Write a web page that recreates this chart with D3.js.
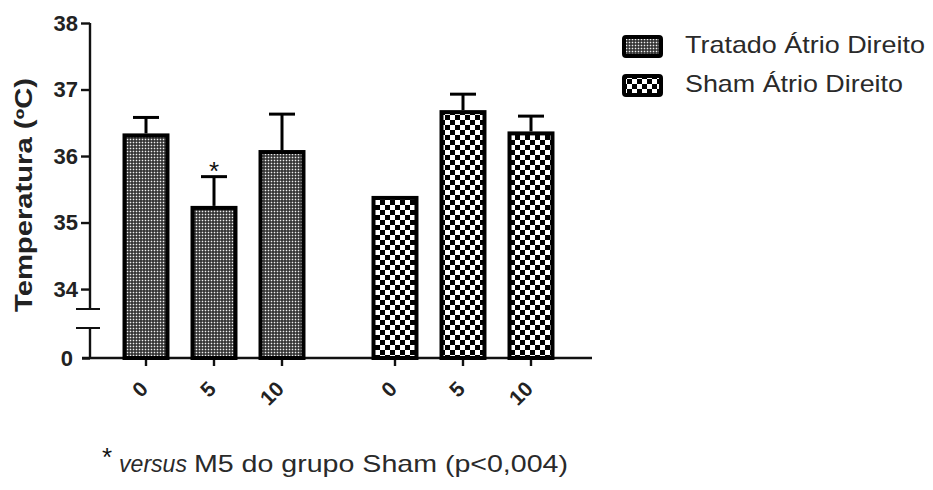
<!DOCTYPE html>
<html>
<head>
<meta charset="utf-8">
<script src="https://cdn.jsdelivr.net/npm/d3@7"></script>
<style>
  html, body { margin: 0; padding: 0; background: #fff; }
  svg { display: block; font-family: "Liberation Sans", Arial, sans-serif; }
</style>
</head>
<body>
<svg id="chart" width="933" height="490"></svg>
<script>
// Time points (minutes) and groups
const timePoints = ["0", "5", "10"];
const groups = ["Tratado", "Sham"];
const legendLabels = ["Tratado Átrio Direito", "Sham Átrio Direito"];

// Mean temperature (ºC) and SEM per group
const tratadoMean = [36.31, 35.22, 36.06];
const tratadoSem  = [0.27, 0.47, 0.57];
const shamMean    = [35.37, 36.66, 36.34];
const shamSem     = [0.0, 0.27, 0.26];

// Significance marks per bar of the treated group
const tratadoSig = ["", "*", ""];

// Y axis ticks: upper segment and the broken lower segment
const upperTicks = [34, 35, 36, 37, 38];
const lowerTicks = [0];

const yLabel = "Temperatura (ºC)";
const footnoteStar = "*";
const footnoteItalic = "versus";
const footnoteText = "M5 do grupo Sham (p<0,004)";

const svg = d3.select("#chart");

// Fill patterns
const defs = svg.append("defs");
const fine = defs.append("pattern").attr("id", "pat-fine")
  .attr("patternUnits", "userSpaceOnUse").attr("width", 3).attr("height", 3);
fine.append("rect").attr("width", 3).attr("height", 3).attr("fill", "#262626");
fine.append("rect").attr("x", 0.7).attr("y", 0.7).attr("width", 1.6).attr("height", 1.6).attr("fill", "#f0f0f0");

const checker = defs.append("pattern").attr("id", "pat-checker")
  .attr("patternUnits", "userSpaceOnUse").attr("width", 10).attr("height", 10);
checker.append("rect").attr("width", 10).attr("height", 10).attr("fill", "#fff");
checker.append("rect").attr("x", 0).attr("y", 0).attr("width", 5).attr("height", 5).attr("fill", "#000");
checker.append("rect").attr("x", 5).attr("y", 5).attr("width", 5).attr("height", 5).attr("fill", "#000");

const fills = { Tratado: "url(#pat-fine)", Sham: "url(#pat-checker)" };

// Scales: broken y axis (upper linear part + short lower part holding 0)
const yTop = d3.scaleLinear().domain([33.7, 38]).range([309, 23]);
const yBot = d3.scaleLinear().domain([0, 1]).range([358, 328]);

const xGroup = d3.scaleBand().domain(groups).range([112, 565]).paddingInner(0.1807);
const xInner = d3.scaleBand().domain(timePoints).range([0, xGroup.bandwidth()])
  .paddingInner(0.368).paddingOuter(0.184);

const rows = [];
groups.forEach(g => {
  const means = g === "Tratado" ? tratadoMean : shamMean;
  const sems = g === "Tratado" ? tratadoSem : shamSem;
  timePoints.forEach((t, i) => {
    rows.push({ group: g, time: t, mean: means[i], sem: sems[i],
      sig: g === "Tratado" ? tratadoSig[i] : "" });
  });
});
const cx = d => xGroup(d.group) + xInner(d.time) + xInner.bandwidth() / 2;

// Axes
const axisColor = "#111";
const upperAxis = svg.append("g").attr("transform", "translate(90,0)")
  .call(d3.axisLeft(yTop).tickValues(upperTicks).tickFormat(d3.format("d"))
    .tickSize(9).tickSizeOuter(0).tickPadding(3));
upperAxis.select(".domain").attr("d", `M0,${yTop(38)}V309`);
const lowerAxis = svg.append("g").attr("transform", "translate(90,0)")
  .call(d3.axisLeft(yBot).tickValues(lowerTicks).tickFormat(d3.format("d"))
    .tickSize(8).tickSizeOuter(0).tickPadding(9));
lowerAxis.select(".domain").attr("d", `M0,328V${yBot(0)}`);
[upperAxis, lowerAxis].forEach(a => {
  a.attr("font-size", 22).attr("font-family", "Liberation Sans, Arial, sans-serif");
  a.selectAll("path, line").attr("stroke", axisColor).attr("stroke-width", 2.4);
  a.selectAll("text").attr("font-size", 22).attr("font-weight", "bold").attr("fill", "#222");
});
// Break marks on the y axis
svg.append("g").selectAll("line").data([309, 328]).join("line")
  .attr("x1", 76).attr("x2", 100).attr("y1", d => d).attr("y2", d => d)
  .attr("stroke", axisColor).attr("stroke-width", 2);

// X axis baseline and ticks
const y0 = yBot(0);
svg.append("line").attr("x1", 82).attr("x2", 592).attr("y1", y0).attr("y2", y0)
  .attr("stroke", axisColor).attr("stroke-width", 2.4);
svg.append("g").selectAll("line").data(rows).join("line")
  .attr("x1", cx).attr("x2", cx).attr("y1", y0).attr("y2", y0 + 8)
  .attr("stroke", axisColor).attr("stroke-width", 2.4);
svg.append("g").selectAll("text").data(rows).join("text")
  .attr("transform", d => `translate(${cx(d) - 2},385) rotate(-45)`)
  .attr("text-anchor", "end").attr("dy", "0.35em")
  .attr("font-size", 21).attr("font-weight", "bold").attr("fill", "#222")
  .text(d => d.time);

// Bars
svg.append("g").selectAll("rect").data(rows).join("rect")
  .attr("x", d => xGroup(d.group) + xInner(d.time))
  .attr("width", xInner.bandwidth())
  .attr("y", d => yTop(d.mean))
  .attr("height", d => y0 - yTop(d.mean))
  .attr("fill", d => fills[d.group])
  .attr("stroke", "#000").attr("stroke-width", 4);

// Error bars (upper SEM only)
const err = svg.append("g").attr("stroke", "#000").attr("stroke-width", 3);
const withErr = rows.filter(d => d.sem > 0);
err.selectAll("line.v").data(withErr).join("line").attr("class", "v")
  .attr("x1", cx).attr("x2", cx)
  .attr("y1", d => yTop(d.mean) - 2).attr("y2", d => yTop(d.mean + d.sem));
err.selectAll("line.c").data(withErr).join("line").attr("class", "c")
  .attr("x1", d => cx(d) - 13).attr("x2", d => cx(d) + 13)
  .attr("y1", d => yTop(d.mean + d.sem)).attr("y2", d => yTop(d.mean + d.sem));

// Significance asterisk
svg.append("g").selectAll("text").data(rows.filter(d => d.sig)).join("text")
  .attr("x", cx).attr("y", d => yTop(d.mean + d.sem) + 3)
  .attr("text-anchor", "middle").attr("font-size", 26).attr("fill", "#111")
  .text(d => d.sig);

// Y axis title
svg.append("text")
  .attr("transform", "translate(32,195) rotate(-90)")
  .attr("text-anchor", "middle")
  .attr("font-size", 23).attr("font-weight", "bold").attr("fill", "#222")
  .attr("textLength", 234).attr("lengthAdjust", "spacingAndGlyphs")
  .text(yLabel);

// Legend
const legend = svg.append("g");
const legendRows = legend.selectAll("g").data(groups).join("g")
  .attr("transform", (d, i) => `translate(622,${35 + i * 39})`);
legendRows.append("rect")
  .attr("x", 2).attr("y", 2).attr("width", 37).attr("height", 19).attr("rx", 2)
  .attr("fill", d => fills[d]).attr("stroke", "#000").attr("stroke-width", 4);
legendRows.append("text")
  .attr("x", 63).attr("y", 18)
  .attr("font-size", 24).attr("fill", "#2a2a2a")
  .attr("textLength", (d, i) => i === 0 ? 240 : 218).attr("lengthAdjust", "spacingAndGlyphs")
  .text((d, i) => legendLabels[i]);

// Footnote
const foot = svg.append("g").attr("fill", "#2a2a2a");
foot.append("text").attr("x", 102).attr("y", 466)
  .attr("font-size", 26).attr("fill", "#111").text(footnoteStar);
foot.append("text").attr("x", 119).attr("y", 472)
  .attr("font-size", 24).attr("font-style", "italic")
  .attr("textLength", 68).attr("lengthAdjust", "spacingAndGlyphs").text(footnoteItalic);
foot.append("text").attr("x", 194).attr("y", 472)
  .attr("font-size", 24)
  .attr("textLength", 374).attr("lengthAdjust", "spacingAndGlyphs").text(footnoteText);
</script>
</body>
</html>
